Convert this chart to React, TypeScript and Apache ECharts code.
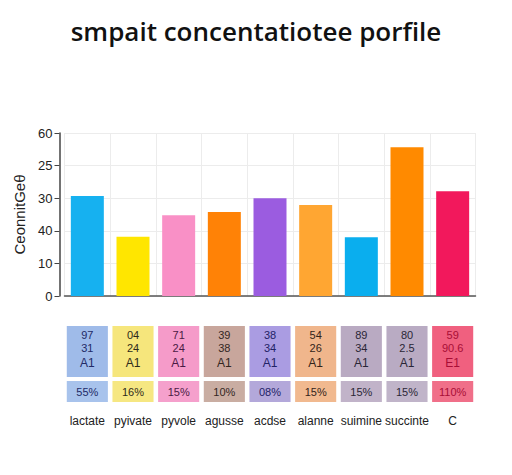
import React, { useEffect, useRef } from "react";
import * as echarts from "echarts";

const titleText = "smpait concentatiotee porfile";
const yAxisName = "CeonnitGeθ";
const categories = ["lactate", "pyivate", "pyvole", "agusse", "acdse", "alanne", "suimine", "succinte", "C"];
// bar heights expressed in axis tick positions (axis labels are non-monotonic)
const barValues = [3.07, 1.82, 2.48, 2.58, 3.0, 2.79, 1.8, 4.56, 3.21];
const yTickLabels = ["0", "10", "40", "30", "25", "60"];
const barColors = ["#16b1f0", "#ffe600", "#f990c6", "#ff8206", "#9b5ce0", "#ffa632", "#0aaeee", "#ff8a00", "#f2185c"];
const cellLine1 = ["97", "04", "71", "39", "38", "54", "89", "80", "59"];
const cellLine2 = ["31", "24", "24", "38", "34", "26", "34", "2.5", "90.6"];
const cellLine3 = ["A1", "A1", "A1", "A1", "A1", "A1", "A1", "A1", "E1"];
const cellPercent = ["55%", "16%", "15%", "10%", "08%", "15%", "15%", "15%", "110%"];
const cellColors = ["#9fbbe9", "#f6e67c", "#f59bc9", "#c8a69c", "#aa9ce2", "#f0b68c", "#b9aac2", "#b9abc3", "#f0607f"];
const cellPctColors = ["#a8c3ec", "#f6e782", "#f5a0cc", "#c9ada2", "#b3a8da", "#f1b98f", "#c1b3c9", "#c0b4c9", "#f06f89"];
const cellTextColors = ["#222a66", "#2e2a1a", "#4a1a44", "#33261f", "#222266", "#33241a", "#2a2636", "#2a2636", "#a80e36"];

export default function App() {
  const ref = useRef<HTMLDivElement>(null);
  useEffect(() => {
    if (!ref.current) return;
    const chart = echarts.init(ref.current, null, { renderer: "svg" });
    const fontFamily = "'Liberation Sans', Arial, sans-serif";
    chart.setOption({
      animation: false,
      backgroundColor: "#ffffff",
      title: {
        text: titleText,
        left: "center",
        top: 13,
        textStyle: { fontFamily: "'Open Sans', sans-serif", fontSize: 26, fontWeight: 600, color: "#111111" },
      },
      grid: [
        { left: 64.5, right: 36.5, top: 133, height: 163 },
        { left: 64.5, right: 36.5, top: 326, height: 76 },
      ],
      xAxis: [
        {
          type: "category",
          gridIndex: 0,
          data: categories,
          boundaryGap: true,
          axisLine: { show: true, lineStyle: { color: "#555555", width: 1.5 } },
          axisTick: { show: false },
          axisLabel: { show: false },
          splitLine: { show: true, interval: 0, lineStyle: { color: "#ececec", width: 1 } },
        },
        {
          type: "category",
          gridIndex: 1,
          data: categories,
          boundaryGap: true,
          axisLine: { show: false },
          axisTick: { show: false },
          axisLabel: { show: true, interval: 0, margin: 13, fontFamily, fontSize: 12, color: "#222222" },
          splitLine: { show: false },
        },
      ],
      yAxis: [
        {
          type: "value",
          gridIndex: 0,
          min: 0,
          max: 5,
          interval: 1,
          offset: 5,
          name: yAxisName,
          nameLocation: "middle",
          nameGap: 33,
          nameRotate: 90,
          nameTextStyle: { fontFamily, fontSize: 15, color: "#222222" },
          axisLine: { show: true, lineStyle: { color: "#444444", width: 1.5 } },
          axisTick: { show: true, length: 5, lineStyle: { color: "#444444" } },
          axisLabel: {
            margin: 7,
            fontFamily,
            fontSize: 13,
            color: "#222222",
            formatter: (v: number) => yTickLabels[Math.round(v)] ?? "",
          },
          splitLine: { show: true, lineStyle: { color: "#ececec", width: 1 } },
        },
        {
          type: "value",
          gridIndex: 1,
          min: 0,
          max: 1,
          show: false,
        },
      ],
      series: [
        {
          type: "bar",
          xAxisIndex: 0,
          yAxisIndex: 0,
          barWidth: 33,
          data: barValues.map((v, i) => ({ value: v, itemStyle: { color: barColors[i] } })),
        },
        {
          type: "custom",
          xAxisIndex: 1,
          yAxisIndex: 1,
          data: categories.map((_, i) => [i, 0]),
          renderItem: (params: any, api: any) => {
            const i = api.value(0);
            const cs = params.coordSys;
            const cx = api.coord([i, 0])[0];
            const bw = api.size([1, 0])[0];
            const w = bw * 0.9;
            const x0 = cx - w / 2;
            const h = cs.height;
            const tallH = h * 0.671;
            const shortY = cs.y + h * 0.724;
            const shortH = h - h * 0.724;
            const tc = cellTextColors[i];
            const ts = { fontFamily, fontSize: 11, fill: tc, align: "center", verticalAlign: "middle" };
            return {
              type: "group",
              children: [
                { type: "rect", shape: { x: x0, y: cs.y, width: w, height: tallH }, style: { fill: cellColors[i] } },
                { type: "rect", shape: { x: x0, y: shortY, width: w, height: shortH }, style: { fill: cellPctColors[i] } },
                { type: "text", x: cx, y: cs.y + 8.5, style: { ...ts, text: cellLine1[i] } },
                { type: "text", x: cx, y: cs.y + 22, style: { ...ts, text: cellLine2[i] } },
                { type: "text", x: cx, y: cs.y + 36.5, style: { ...ts, fontSize: 12, text: cellLine3[i] } },
                { type: "text", x: cx, y: shortY + shortH / 2, style: { ...ts, text: cellPercent[i] } },
              ],
            };
          },
        },
      ],
    });
    return () => chart.dispose();
  }, []);
  return <div ref={ref} style={{ position: "fixed", left: 0, top: 0, width: 512, height: 475 }} />;
}
